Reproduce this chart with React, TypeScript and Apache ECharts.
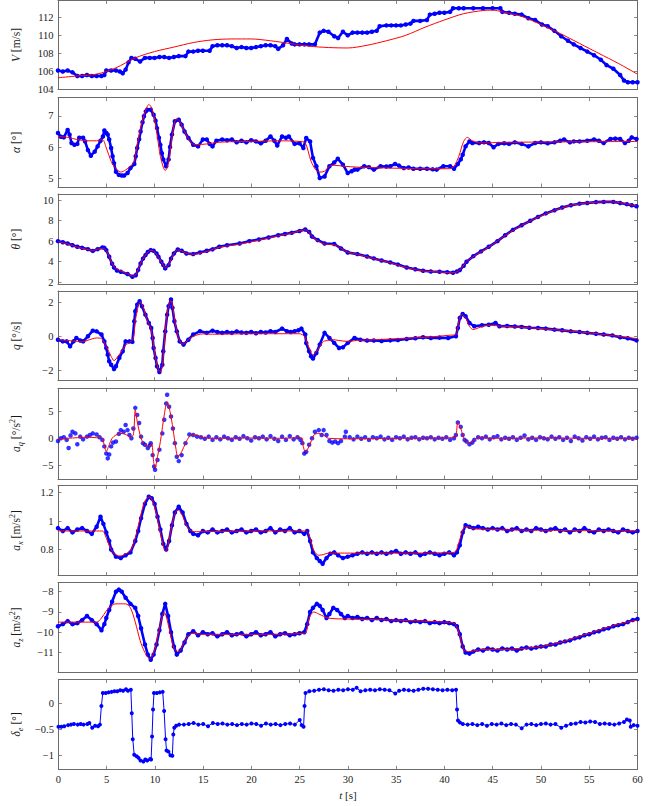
import React, { useEffect, useRef } from 'react';
import * as echarts from 'echarts';

// ---------- data: [t (s), value] ----------
const V_MEAS = [[0,106.1],[0.5,106.0],[1,106.1],[1.5,105.9],[2,105.5],[2.5,105.5],[3,105.6],[3.5,105.5],[4,105.5],[4.5,105.5],[4.8,105.6],[5,106.1],[5.5,106.1],[6,106.1],[6.4,106.0],[6.7,105.8],[7,106.2],[7.3,107.0],[7.6,107.5],[8,107.4],[8.5,107.1],[9,107.5],[9.5,107.5],[10,107.5],[10.5,107.6],[11,107.6],[11.5,107.5],[12,107.6],[12.5,107.7],[13.2,107.7],[13.5,108.2],[14,108.2],[14.5,108.3],[15,108.3],[15.7,108.3],[16,108.8],[16.5,108.9],[17,108.9],[17.5,108.9],[18,108.8],[18.5,108.6],[19,108.7],[19.5,108.6],[20,108.6],[20.5,108.7],[21,108.8],[21.5,108.9],[22,108.9],[22.5,108.8],[22.8,108.5],[23.3,108.9],[23.7,109.6],[24.2,109.1],[24.5,109.0],[25,109.0],[25.5,109.0],[26,109.0],[26.6,109.0],[27.1,110.3],[27.5,110.5],[28,110.4],[28.6,109.9],[29,109.7],[29.5,110.4],[30,110.0],[30.5,110.3],[31,110.3],[31.5,110.3],[32,110.3],[32.5,110.4],[33,110.5],[33.3,111.0],[34,111.1],[34.5,111.1],[35,111.1],[35.5,111.1],[36,111.2],[36.5,111.3],[36.8,111.6],[37.5,111.6],[38.2,111.7],[38.5,112.3],[39,112.4],[39.5,112.5],[40,112.5],[40.6,112.6],[40.9,113.0],[41.5,113.0],[42,113.0],[43,113.0],[44,113.0],[45,113.0],[45.8,113.0],[46,112.6],[46.7,112.5],[47.3,112.4],[48,112.3],[48.7,111.9],[49.4,111.7],[50.1,111.2],[50.7,111.0],[51.4,110.5],[52.1,109.9],[52.8,109.4],[53.4,109.0],[54.1,108.6],[54.8,108.2],[55.5,107.8],[56.2,107.3],[56.8,106.7],[57.5,106.3],[58.2,105.6],[58.6,105.0],[59,104.8],[59.5,104.8],[60,104.8]];
const V_MODEL = [[0,105.3],[2,105.5],[4,105.7],[6,106.4],[8,107.5],[10,108.2],[12,108.7],[14,109.2],[16,109.5],[18,109.6],[20,109.6],[22,109.4],[24,109.1],[26,108.8],[28,108.65],[30,108.6],[32,108.9],[34,109.4],[36,110.0],[38,110.9],[40,111.7],[42,112.4],[44,112.75],[45,112.8],[46,112.6],[48,112.1],[50,111.2],[52,110.2],[54,109.1],[56,108.0],[58,106.9],[60,105.7]];

const ALPHA_MEAS = [[0,6.45],[0.3,6.33],[0.6,6.31],[1.0,6.55],[1.2,6.4],[1.4,6.13],[1.7,6.07],[2.0,6.1],[2.2,6.3],[2.6,6.3],[2.8,6.18],[3.1,5.9],[3.4,5.72],[3.8,5.85],[4.1,6.02],[4.4,6.2],[4.65,6.34],[4.8,6.53],[5.0,6.45],[5.15,6.4],[5.3,6.24],[5.5,5.97],[5.65,5.7],[5.8,5.48],[6.0,5.2],[6.3,5.1],[6.6,5.08],[6.85,5.08],[7.2,5.16],[7.5,5.32],[7.9,5.45],[8.05,5.7],[8.2,5.97],[8.4,6.25],[8.55,6.5],[8.75,6.8],[8.9,6.99],[9.1,7.15],[9.24,7.2],[9.6,7.2],[9.9,7.04],[10.1,6.85],[10.25,6.61],[10.45,6.3],[10.6,6.07],[10.75,5.8],[10.9,5.6],[11.2,5.38],[11.45,5.6],[11.6,6.0],[11.8,6.4],[12.1,6.83],[12.5,6.88],[12.8,6.72],[13.1,6.5],[13.5,6.29],[14.0,6.07],[14.5,6.02],[15.0,6.24],[15.4,6.24],[15.7,6.1],[16.0,6.02],[16.4,6.2],[17,6.24],[17.5,6.22],[18,6.24],[18.5,6.15],[19,6.2],[19.5,6.15],[20,6.22],[20.5,6.18],[21,6.12],[21.5,6.2],[22,6.34],[22.4,6.2],[22.7,6.05],[23.2,6.34],[23.6,6.3],[23.9,6.34],[24.5,6.1],[25,6.12],[25.4,5.97],[25.7,6.29],[26.1,6.18],[26.4,5.65],[26.75,5.38],[27.1,5.0],[27.6,5.05],[28.1,5.38],[28.6,5.5],[28.97,5.62],[29.5,5.43],[30,5.16],[30.4,5.22],[30.7,5.27],[31,5.27],[31.7,5.38],[32.2,5.35],[32.7,5.27],[33.4,5.38],[34,5.37],[34.4,5.38],[34.9,5.45],[35.3,5.4],[35.8,5.32],[36.3,5.34],[36.8,5.3],[37.5,5.3],[38.2,5.3],[38.8,5.28],[39.2,5.27],[39.9,5.38],[40.6,5.38],[41.0,5.3],[41.4,5.45],[41.7,5.6],[41.9,5.75],[42.2,6.02],[42.6,6.18],[42.9,6.13],[43.6,6.13],[44.1,6.15],[44.6,6.13],[45.1,5.99],[45.6,6.1],[46.2,6.12],[46.7,6.1],[47.3,6.15],[48,6.1],[48.7,6.02],[49.4,6.13],[50,6.15],[50.7,6.12],[51.4,6.15],[52,6.2],[52.4,6.24],[53,6.15],[53.4,6.18],[54,6.18],[54.8,6.2],[55.5,6.24],[56,6.2],[56.5,6.13],[57.2,6.26],[57.7,6.27],[58.2,6.26],[58.7,6.13],[59.1,6.2],[59.4,6.31],[59.9,6.26]];
const ALPHA_MODEL = [[0,6.34],[1,6.31],[2,6.24],[3,6.2],[4,6.2],[4.6,6.24],[5.0,5.97],[5.5,5.54],[5.8,5.38],[6.5,5.19],[7.0,5.26],[7.5,5.38],[7.9,5.54],[8.2,6.07],[8.55,6.6],[8.9,7.02],[9.24,7.31],[9.4,7.37],[9.7,7.26],[10.0,6.9],[10.3,6.3],[10.6,5.7],[10.9,5.35],[11.1,5.24],[11.45,5.5],[11.8,6.3],[12.1,6.83],[12.3,6.91],[12.6,6.83],[13.1,6.5],[13.8,6.13],[14.3,6.07],[15.4,6.1],[17,6.16],[20,6.18],[23,6.2],[25,6.18],[25.6,6.13],[26.2,5.54],[26.7,5.26],[27.1,5.19],[27.6,5.22],[28.1,5.38],[28.6,5.41],[29.6,5.38],[31,5.35],[34.4,5.32],[37.8,5.3],[40.5,5.3],[41,5.38],[41.5,5.7],[42.0,6.18],[42.4,6.31],[42.9,6.2],[43.9,6.13],[46,6.15],[50,6.16],[55,6.17],[60,6.18]];

const THETA_MEAS = [[0,6.0],[0.5,5.9],[1,5.77],[1.5,5.6],[2,5.45],[2.5,5.35],[3.1,5.22],[3.6,5.05],[4.1,5.22],[4.6,5.39],[4.8,5.35],[5.0,5.13],[5.3,4.48],[5.6,3.8],[5.8,3.44],[6.1,3.15],[6.5,3.02],[7.2,2.8],[7.7,2.54],[8.05,2.68],[8.3,3.2],[8.55,3.83],[8.8,4.3],[9.06,4.64],[9.3,4.95],[9.6,5.13],[9.9,5.07],[10.2,4.8],[10.4,4.48],[10.7,4.0],[10.9,3.67],[11.1,3.35],[11.45,3.67],[11.7,4.3],[12.0,4.8],[12.4,5.19],[12.8,5.06],[13.3,4.8],[14.0,4.74],[14.7,4.9],[15.4,5.06],[16.0,5.2],[16.7,5.45],[17.5,5.6],[18.8,5.77],[19.8,6.0],[20.8,6.16],[21.8,6.35],[22.8,6.58],[23.5,6.7],[24.2,6.81],[25.0,6.98],[25.6,7.13],[26.0,6.9],[26.3,6.45],[26.9,6.1],[27.6,5.77],[28.6,5.72],[29.3,5.29],[30,4.9],[31,4.74],[32,4.5],[32.7,4.32],[33.5,4.12],[34.4,3.93],[35.2,3.72],[36.1,3.44],[37,3.26],[37.8,3.12],[38.6,3.05],[39.5,3.02],[40.3,2.98],[40.9,2.93],[41.3,3.05],[41.6,3.18],[42.0,3.6],[42.3,3.99],[43.0,4.54],[43.8,5.0],[44.6,5.45],[45.5,6.0],[46.3,6.58],[47.1,7.1],[48.0,7.55],[48.9,7.98],[49.7,8.36],[50.5,8.7],[51.4,9.0],[52.2,9.28],[53.1,9.5],[54.0,9.65],[54.8,9.72],[55.7,9.8],[56.5,9.82],[57.5,9.82],[58.2,9.72],[58.9,9.6],[59.4,9.5],[59.9,9.4]];
const THETA_MODEL = [[0,5.95],[1,5.72],[2,5.42],[3,5.2],[3.6,5.1],[4.1,5.2],[4.6,5.3],[5.0,5.1],[5.3,4.5],[5.8,3.5],[6.5,3.1],[7.2,2.85],[7.7,2.6],[8.05,2.72],[8.55,3.85],[9.06,4.65],[9.6,5.1],[9.9,5.05],[10.4,4.45],[10.9,3.65],[11.1,3.4],[11.45,3.7],[12.0,4.8],[12.4,5.15],[12.8,5.05],[13.3,4.8],[14.0,4.72],[15.4,5.0],[16.7,5.4],[18.8,5.72],[20.8,6.1],[22.8,6.52],[24.2,6.78],[25.6,7.1],[26.0,6.88],[26.3,6.45],[26.9,6.05],[27.6,5.72],[28.6,5.65],[29.3,5.3],[30,4.92],[31,4.72],[32.7,4.3],[34.4,3.9],[36.1,3.42],[37.8,3.1],[39.5,3.0],[40.9,2.92],[41.6,3.2],[42.3,4.0],[43.0,4.5],[44.6,5.42],[46.3,6.55],[48.0,7.52],[49.7,8.33],[51.4,8.98],[53.1,9.48],[54.8,9.72],[56.5,9.82],[57.5,9.82],[58.9,9.62],[59.9,9.42]];

const Q_MEAS = [[0,-0.2],[0.5,-0.3],[0.9,-0.3],[1.25,-0.59],[1.6,-0.3],[1.9,-0.1],[2.3,-0.25],[2.6,-0.3],[3.1,0.0],[3.6,0.33],[4.0,0.29],[4.5,0.1],[4.8,-0.3],[5.0,-0.69],[5.15,-1.08],[5.3,-1.47],[5.5,-1.67],[5.8,-1.92],[6.0,-1.76],[6.35,-1.27],[6.7,-0.88],[7.0,-0.3],[7.4,-0.3],[7.7,-0.33],[7.9,0.88],[8.0,1.47],[8.2,1.86],[8.45,2.06],[8.7,1.76],[9.05,1.27],[9.4,0.78],[9.65,0.49],[9.8,-0.1],[9.9,-0.69],[10.1,-1.27],[10.25,-1.76],[10.5,-2.1],[10.8,-1.67],[10.9,-0.88],[11.1,0.29],[11.3,1.27],[11.45,1.76],[11.7,2.16],[11.85,1.67],[12.05,0.88],[12.3,0.29],[12.6,-0.3],[13.0,-0.49],[13.5,-0.2],[14.0,0.1],[14.7,0.3],[15.4,0.2],[16.0,0.33],[16.5,0.25],[17,0.2],[17.5,0.25],[18,0.2],[18.5,0.28],[19,0.22],[19.5,0.2],[20,0.25],[20.5,0.18],[21,0.25],[21.5,0.22],[22,0.3],[22.5,0.25],[23.2,0.45],[23.7,0.3],[24.1,0.25],[24.5,0.3],[24.9,0.35],[25.2,0.45],[25.6,0.1],[25.7,-0.4],[26.0,-0.88],[26.2,-1.18],[26.4,-1.31],[26.75,-0.98],[27.1,-0.49],[27.6,0.2],[28.1,-0.1],[28.6,-0.39],[29.1,-0.69],[29.5,-0.65],[30,-0.39],[30.7,-0.1],[31.3,-0.2],[32,-0.25],[32.7,-0.25],[33.5,-0.28],[34.4,-0.24],[35.2,-0.22],[36.1,-0.16],[37,-0.12],[37.8,-0.06],[38.6,-0.1],[39.5,-0.08],[40.4,-0.1],[41.2,0.0],[41.4,0.49],[41.6,1.08],[41.9,1.31],[42.2,1.18],[42.6,0.78],[43.1,0.59],[43.9,0.65],[44.6,0.68],[45.3,0.78],[45.7,0.59],[46.5,0.6],[47.3,0.57],[48.0,0.55],[48.8,0.5],[49.7,0.49],[50.5,0.45],[51.4,0.39],[52.2,0.35],[53.1,0.29],[54.0,0.25],[54.8,0.2],[55.7,0.15],[56.5,0.1],[57.4,0.05],[58.2,-0.06],[59.0,-0.12],[59.9,-0.24]];
const Q_MODEL = [[0,-0.2],[1,-0.25],[2,-0.3],[2.5,-0.33],[3,-0.25],[4,-0.1],[4.5,-0.14],[5,-0.59],[5.5,-1.18],[5.8,-1.43],[6.2,-1.18],[6.7,-0.78],[7,-0.49],[7.4,-0.39],[7.8,-0.1],[8.0,0.88],[8.3,1.76],[8.5,2.0],[8.8,1.76],[9.2,0.98],[9.6,0.49],[9.8,-0.1],[10.1,-1.27],[10.4,-1.96],[10.6,-2.1],[10.9,-1.27],[11.1,0.29],[11.4,1.67],[11.7,2.1],[12.0,1.27],[12.3,0.29],[12.7,-0.39],[13.0,-0.45],[13.5,-0.2],[14,0.0],[15,0.14],[16,0.12],[20,0.15],[25,0.15],[25.5,0.0],[26.0,-0.69],[26.4,-1.08],[27,-0.69],[27.5,-0.3],[28,-0.25],[28.5,-0.2],[29,-0.24],[30,-0.3],[31,-0.24],[33,-0.2],[35,-0.14],[38,-0.06],[40.5,0.06],[41.2,0.1],[41.5,0.88],[41.8,1.27],[42.2,1.08],[42.6,0.59],[43,0.39],[43.5,0.49],[44.5,0.65],[46,0.59],[50,0.45],[55,0.2],[58,0.0],[60,-0.14]];

const AQ_MEAS = [[0,-0.5],[0.3,0.0],[0.6,0.2],[0.9,-0.3],[1.1,-1.8],[1.3,0.5],[1.5,1.2],[1.8,0.9],[2.0,-1.1],[2.3,0.3],[2.6,-0.2],[3.0,0.3],[3.3,0.6],[3.6,0.9],[4.0,0.7],[4.3,0.2],[4.6,-0.3],[4.8,-1.5],[5.0,-2.8],[5.15,-3.7],[5.3,-3.0],[5.5,-1.5],[5.7,-0.8],[6.0,-0.6],[6.3,0.8],[6.5,1.5],[6.8,1.2],[7.0,2.45],[7.2,1.5],[7.4,0.6],[7.6,0.0],[7.8,1.8],[8.0,5.6],[8.2,4.3],[8.4,2.8],[8.6,0.3],[8.8,-0.9],[9.0,-1.2],[9.3,-1.8],[9.5,-1.3],[9.6,-0.9],[9.8,-3.1],[9.95,-5.2],[10.05,-5.8],[10.3,-4.0],[10.5,-2.1],[10.8,0.9],[11.0,3.4],[11.2,6.4],[11.3,8.0],[11.5,5.8],[11.7,4.0],[11.9,1.8],[12.1,-0.9],[12.3,-3.4],[12.5,-4.2],[12.8,-3.1],[13.2,-0.9],[13.6,0.7],[14.0,0.6],[14.4,0.3],[14.8,0.2],[15.2,-0.1],[15.6,0.3],[16.0,-0.3],[16.4,0.2],[16.8,-0.2],[17.2,0.3],[17.6,0.0],[18.0,-0.3],[18.4,0.2],[18.8,-0.1],[19.2,0.4],[19.6,0.0],[20.0,-0.4],[20.4,0.2],[20.8,0.0],[21.2,0.3],[21.6,-0.2],[22.0,0.4],[22.4,-0.1],[22.8,-0.5],[23.2,0.3],[23.6,-0.3],[24.0,0.4],[24.4,-0.2],[24.8,0.2],[25.1,-0.3],[25.3,-0.9],[25.5,-2.8],[25.7,-2.5],[26.0,-1.2],[26.3,0.0],[26.6,1.2],[27.0,1.5],[27.3,0.6],[27.5,1.5],[27.8,0.6],[28.1,-0.5],[28.4,-0.8],[28.7,-0.6],[29.0,-0.9],[29.3,-0.5],[29.7,0.3],[29.8,1.2],[30.2,0.2],[30.6,-0.2],[31.0,0.3],[31.4,-0.1],[31.8,0.2],[32.2,-0.3],[32.6,0.2],[33.0,0.0],[33.4,0.3],[33.8,-0.2],[34.2,0.1],[34.6,-0.3],[35.0,0.2],[35.4,0.0],[35.8,0.3],[36.2,-0.2],[36.6,0.1],[37.0,0.2],[37.4,-0.2],[37.8,0.1],[38.2,0.0],[38.6,0.2],[39.0,-0.2],[39.4,0.1],[39.8,-0.1],[40.2,0.2],[40.6,-0.3],[41.0,0.0],[41.2,0.6],[41.4,2.9],[41.7,2.1],[41.9,0.6],[42.1,-0.3],[42.3,-0.6],[42.6,-1.1],[42.9,-0.8],[43.1,-0.3],[43.5,0.2],[43.9,0.0],[44.3,0.3],[44.7,-0.2],[45.1,0.2],[45.5,0.4],[45.9,-0.2],[46.3,0.1],[46.7,-0.1],[47.1,0.2],[47.5,-0.3],[47.9,0.1],[48.3,0.5],[48.7,-0.2],[49.1,0.1],[49.5,-0.3],[49.9,0.2],[50.3,0.0],[50.7,-0.2],[51.1,0.3],[51.5,-0.1],[51.9,0.2],[52.3,-0.3],[52.7,0.1],[53.1,-0.5],[53.5,0.3],[53.9,0.0],[54.3,-0.4],[54.7,0.2],[55.1,-0.1],[55.5,0.3],[55.9,-0.2],[56.3,0.1],[56.7,0.2],[57.1,-0.3],[57.5,0.1],[57.9,-0.1],[58.3,0.2],[58.7,-0.2],[59.1,0.1],[59.5,-0.1],[59.9,0.1]];
const AQ_MODEL = [[0,-0.1],[1,0.0],[2,0.1],[3,0.2],[4,0.1],[4.5,0.1],[5.0,-2.4],[5.3,-1.2],[5.6,0.0],[6.0,0.6],[6.5,0.9],[7.0,0.7],[7.5,0.3],[7.8,0.6],[8.0,5.2],[8.2,3.1],[8.6,0.0],[9.0,-1.2],[9.5,-1.5],[9.7,-0.9],[9.9,-4.3],[10.05,-5.5],[10.3,-3.4],[10.6,-0.6],[10.9,3.1],[11.2,6.4],[11.3,6.7],[11.6,4.9],[11.9,1.8],[12.2,-1.8],[12.4,-3.4],[12.8,-2.5],[13.2,-0.9],[13.6,0.3],[14.0,0.7],[14.5,0.5],[15,0.1],[17,0.0],[20,0.05],[23,0.0],[25.2,0.1],[25.4,-1.5],[25.6,-2.5],[26.0,-1.5],[26.5,0.6],[27.0,0.9],[27.5,0.6],[28,0.0],[30,-0.1],[35,0.0],[41.0,0.1],[41.2,0.3],[41.4,2.9],[41.7,1.8],[42.1,-0.3],[42.6,-0.9],[43.1,-0.3],[43.5,0.1],[45,0.0],[50,0.05],[55,0.0],[60,0.0]];

const AX_MEAS = [[0,0.95],[0.5,0.93],[1,0.95],[1.5,0.92],[2,0.94],[2.5,0.95],[3,0.93],[3.5,0.91],[4,0.96],[4.4,1.03],[4.7,0.98],[5,0.92],[5.3,0.86],[5.5,0.8],[6,0.75],[6.5,0.74],[7,0.76],[7.5,0.78],[8,0.86],[8.3,0.93],[8.6,1.02],[9,1.12],[9.4,1.17],[9.7,1.16],[10,1.12],[10.3,1.03],[10.6,0.94],[10.9,0.84],[11.2,0.8],[11.5,0.86],[11.8,0.97],[12.1,1.06],[12.5,1.1],[12.9,1.06],[13.3,0.98],[13.7,0.93],[14,0.91],[14.5,0.9],[15,0.93],[15.5,0.92],[16,0.94],[16.5,0.92],[17,0.93],[17.5,0.94],[18,0.92],[18.5,0.93],[19,0.94],[19.5,0.92],[20,0.93],[20.5,0.94],[21,0.92],[21.5,0.93],[22,0.95],[22.5,0.92],[23,0.94],[23.5,0.93],[24,0.95],[24.5,0.92],[25,0.93],[25.5,0.91],[25.8,0.93],[26.1,0.86],[26.4,0.78],[26.8,0.74],[27.1,0.72],[27.4,0.7],[27.8,0.74],[28.2,0.77],[28.6,0.78],[29,0.76],[29.5,0.74],[30,0.75],[30.5,0.76],[31,0.77],[31.5,0.78],[32,0.77],[32.5,0.78],[33,0.77],[33.5,0.78],[34,0.77],[34.5,0.78],[35,0.79],[35.5,0.77],[36,0.78],[36.5,0.77],[37,0.78],[37.5,0.76],[38,0.77],[38.5,0.78],[39,0.77],[39.5,0.76],[40,0.77],[40.5,0.78],[41,0.76],[41.3,0.78],[41.6,0.83],[41.9,0.92],[42.2,0.97],[42.6,0.96],[43,0.95],[43.5,0.96],[44,0.95],[44.5,0.94],[45,0.95],[45.5,0.94],[46,0.95],[46.5,0.93],[47,0.94],[47.5,0.95],[48,0.93],[48.5,0.94],[49,0.93],[49.5,0.95],[50,0.94],[50.5,0.93],[51,0.94],[51.5,0.95],[52,0.93],[52.5,0.94],[53,0.92],[53.5,0.94],[54,0.93],[54.5,0.95],[55,0.93],[55.5,0.92],[56,0.94],[56.5,0.93],[57,0.94],[57.5,0.93],[58,0.92],[58.5,0.94],[59,0.93],[59.5,0.92],[60,0.93]];
const AX_MODEL = [[0,0.93],[4,0.93],[4.6,0.93],[5,0.88],[5.5,0.8],[6,0.76],[6.5,0.755],[7,0.77],[7.5,0.79],[8,0.88],[8.5,1.02],[9,1.14],[9.5,1.17],[10,1.1],[10.5,0.95],[11,0.8],[11.2,0.79],[11.5,0.87],[12,1.03],[12.4,1.08],[12.8,1.05],[13.3,0.97],[13.8,0.93],[14.5,0.925],[20,0.93],[25.7,0.93],[26.1,0.88],[26.5,0.79],[27,0.76],[27.5,0.765],[28,0.775],[35,0.775],[41,0.78],[41.5,0.85],[42,0.95],[42.5,0.96],[43,0.945],[50,0.935],[60,0.93]];

const AZ_MEAS = [[0,-9.7],[0.5,-9.6],[1,-9.45],[1.5,-9.6],[2,-9.55],[2.5,-9.4],[3,-9.2],[3.5,-9.4],[4,-9.6],[4.5,-9.9],[4.8,-9.6],[5,-9.3],[5.3,-8.9],[5.6,-8.5],[6,-8.0],[6.3,-7.9],[6.6,-8.0],[7,-8.3],[7.5,-8.6],[8,-8.8],[8.3,-9.2],[8.6,-9.8],[9,-10.6],[9.3,-11.1],[9.6,-11.35],[9.9,-11.1],[10.2,-10.6],[10.5,-9.9],[10.8,-9.1],[11.1,-8.6],[11.4,-9.2],[11.7,-10.0],[12,-10.7],[12.3,-11.1],[12.7,-10.9],[13.1,-10.5],[13.5,-10.1],[14,-9.95],[14.5,-10.15],[15,-10.0],[15.5,-10.1],[16,-10.05],[16.5,-10.2],[17,-10.1],[17.5,-10.0],[18,-10.15],[18.5,-10.1],[19,-10.05],[19.5,-10.2],[20,-10.1],[20.5,-10.0],[21,-10.15],[21.5,-10.1],[22,-10.0],[22.5,-10.2],[23,-10.1],[23.5,-10.05],[24,-10.15],[24.5,-10.1],[25,-10.05],[25.5,-10.0],[25.8,-9.6],[26.1,-9.0],[26.4,-8.8],[26.8,-8.6],[27.1,-8.7],[27.4,-8.9],[27.8,-9.3],[28.1,-9.1],[28.5,-8.8],[28.9,-8.9],[29.3,-9.1],[29.7,-9.3],[30,-9.2],[30.5,-9.3],[31,-9.25],[31.5,-9.35],[32,-9.3],[32.5,-9.4],[33,-9.3],[33.5,-9.4],[34,-9.35],[34.5,-9.45],[35,-9.4],[35.5,-9.45],[36,-9.4],[36.5,-9.5],[37,-9.45],[37.5,-9.5],[38,-9.45],[38.5,-9.55],[39,-9.5],[39.5,-9.55],[40,-9.5],[40.5,-9.55],[41,-9.6],[41.3,-9.7],[41.6,-10.1],[41.9,-10.7],[42.2,-11.0],[42.6,-11.05],[43,-10.95],[43.5,-10.85],[44,-10.9],[44.5,-10.8],[45,-10.85],[45.5,-10.9],[46,-10.8],[46.5,-10.85],[47,-10.8],[47.5,-10.9],[48,-10.8],[48.5,-10.75],[49,-10.8],[49.5,-10.75],[50,-10.7],[50.5,-10.7],[51,-10.6],[51.5,-10.6],[52,-10.5],[52.5,-10.45],[53,-10.4],[53.5,-10.3],[54,-10.25],[54.5,-10.15],[55,-10.1],[55.5,-10.0],[56,-9.95],[56.5,-9.85],[57,-9.8],[57.5,-9.7],[58,-9.65],[58.5,-9.6],[59,-9.5],[59.5,-9.4],[60,-9.35]];
const AZ_MODEL = [[0,-9.5],[4,-9.5],[4.5,-9.3],[5,-8.95],[5.5,-8.7],[6,-8.6],[7,-8.6],[7.5,-8.8],[8,-9.5],[8.5,-10.4],[9,-11.0],[9.5,-11.3],[10,-10.9],[10.5,-9.8],[11,-9.0],[11.5,-9.8],[12,-10.8],[12.5,-10.95],[13,-10.55],[13.5,-10.15],[14,-10.05],[15,-10.1],[20,-10.1],[25.5,-10.05],[26,-9.3],[26.5,-9.0],[27,-9.1],[28,-9.3],[30,-9.35],[35,-9.4],[40,-9.5],[41,-9.55],[41.5,-10.0],[42,-10.85],[42.5,-10.95],[44,-10.85],[46,-10.85],[48,-10.8],[50,-10.7],[52,-10.5],[54,-10.2],[56,-9.9],[58,-9.6],[60,-9.4]];

const DE_MEAS = [[0,-0.45],[0.3,-0.45],[0.6,-0.44],[1,-0.42],[1.3,-0.41],[1.6,-0.4],[2,-0.41],[2.3,-0.4],[2.6,-0.41],[3,-0.4],[3.2,-0.38],[3.5,-0.47],[3.8,-0.43],[4.1,-0.44],[4.3,-0.41],[4.45,-0.05],[4.6,0.2],[4.9,0.2],[5.2,0.21],[5.5,0.22],[5.8,0.23],[6.1,0.23],[6.4,0.25],[6.7,0.24],[7.0,0.27],[7.2,0.24],[7.5,0.26],[7.6,-0.19],[7.7,-0.69],[7.85,-0.99],[8.1,-1.02],[8.3,-1.05],[8.5,-1.1],[8.8,-1.12],[9.0,-1.08],[9.2,-1.1],[9.5,-1.07],[9.6,-1.08],[9.7,-0.64],[9.8,-0.12],[9.9,0.2],[10.2,0.2],[10.5,0.21],[10.8,0.22],[10.95,-0.15],[11.1,-0.69],[11.2,-0.91],[11.4,-0.93],[11.6,-1.0],[11.8,-1.01],[11.9,-0.6],[12.0,-0.47],[12.2,-0.43],[12.5,-0.41],[13,-0.41],[13.5,-0.4],[14,-0.38],[14.5,-0.41],[15,-0.4],[15.5,-0.44],[16,-0.38],[16.5,-0.4],[17,-0.39],[17.5,-0.41],[18,-0.4],[18.5,-0.42],[19,-0.4],[19.5,-0.41],[20,-0.39],[20.5,-0.4],[21,-0.43],[21.5,-0.39],[22,-0.41],[22.5,-0.4],[23,-0.42],[23.5,-0.4],[24,-0.39],[24.5,-0.41],[25,-0.32],[25.2,-0.42],[25.4,-0.45],[25.5,-0.05],[25.6,0.2],[26,0.23],[26.5,0.24],[27,0.26],[27.5,0.27],[28,0.25],[28.5,0.24],[29,0.26],[29.5,0.25],[30,0.27],[30.5,0.26],[30.9,0.3],[31.3,0.23],[31.8,0.25],[32.3,0.26],[32.8,0.25],[33.3,0.27],[33.8,0.26],[34.3,0.25],[34.9,0.19],[35.3,0.24],[35.8,0.26],[36.3,0.25],[36.8,0.24],[37.3,0.26],[37.8,0.28],[38.3,0.28],[38.8,0.27],[39.3,0.26],[39.8,0.25],[40.3,0.26],[40.8,0.25],[41.2,0.26],[41.3,-0.12],[41.4,-0.33],[41.6,-0.37],[41.9,-0.4],[42.4,-0.41],[42.9,-0.4],[43.4,-0.42],[43.9,-0.4],[44.4,-0.43],[44.9,-0.4],[45.4,-0.41],[45.9,-0.39],[46.4,-0.42],[46.9,-0.4],[47.4,-0.41],[48,-0.48],[48.5,-0.41],[49,-0.4],[49.5,-0.42],[50,-0.4],[50.5,-0.39],[51,-0.41],[51.5,-0.4],[52.1,-0.47],[52.6,-0.43],[53.1,-0.4],[53.6,-0.39],[54.1,-0.36],[54.6,-0.37],[55.1,-0.35],[55.6,-0.36],[56.1,-0.4],[56.6,-0.39],[57.1,-0.4],[57.6,-0.41],[58.1,-0.39],[58.6,-0.36],[58.9,-0.31],[59.2,-0.33],[59.3,-0.45],[59.6,-0.42],[60,-0.43]];

// ---------- axis descriptions ----------
const Y_NAMES = [
  '{i|V} [m/s]',
  '{i|α} [°]',
  '{i|θ} [°]',
  '{i|q} [°/s]',
  '{i|a}{sub|q} [°/s{sup|2}]',
  '{i|a}{sub|x} [m/s{sup|2}]',
  '{i|a}{sub|z} [m/s{sup|2}]',
  '{i|δ}{sub|e} [°]',
];
const Y_TICKS = [
  [104, 106, 108, 110, 112],
  [5, 6, 7],
  [2, 4, 6, 8, 10],
  [-2, 0, 2],
  [-5, 0, 5],
  [0.8, 1, 1.2],
  [-11, -10, -9, -8],
  [-1, -0.5, 0],
];
const Y_MIN = [104, 4.71, 1.8, -2.61, -7.5, 0.618, -11.98, -1.27];
const Y_MAX = [113.86, 7.59, 10.59, 2.66, 9.2, 1.249, -7.55, 0.458];
const MEAS = [V_MEAS, ALPHA_MEAS, THETA_MEAS, Q_MEAS, AQ_MEAS, AX_MEAS, AZ_MEAS, DE_MEAS];
const MODEL = [V_MODEL, ALPHA_MODEL, THETA_MODEL, Q_MODEL, AQ_MODEL, AX_MODEL, AZ_MODEL, null];

// ---------- layout ----------
const GRID_TOP = [0.5, 97.7, 194, 291, 388.3, 485.5, 582.5, 679.5];
const GRID_H = [89, 89.3, 90.3, 89.7, 90.7, 90, 90, 89.8];
const FONT = 'Liberation Serif';
const AXC = '#6b6b6b';
const TXT = '#1a1a1a';

const fmt = (v: number) => (v < 0 ? '\u2212' : '') + String(Math.abs(v));

const rich = {
  i: { fontStyle: 'italic', fontFamily: FONT, fontSize: 11.5, color: TXT, lineHeight: 16 },
  sub: { fontStyle: 'italic', fontFamily: FONT, fontSize: 8.5, color: TXT, lineHeight: 7, verticalAlign: 'bottom' },
  sup: { fontFamily: FONT, fontSize: 8, color: TXT, lineHeight: 8, verticalAlign: 'top' },
};

function buildOption() {
  const grid: any[] = [];
  const xAxis: any[] = [];
  const yAxis: any[] = [];
  const series: any[] = [];
  const line = { show: true, onZero: false, lineStyle: { color: AXC, width: 1 } };
  const tick = { show: true, inside: true, length: 3.5, lineStyle: { color: AXC, width: 0.8 } };
  for (let i = 0; i < 8; i++) {
    const last = i === 7;
    grid.push({ left: 49.5, width: 588, top: GRID_TOP[i], height: GRID_H[i] });
    const xBase = {
      gridIndex: i, type: 'value', min: 0, max: 60, interval: 5,
      axisLine: line, axisTick: tick, splitLine: { show: false },
    };
    xAxis.push({
      ...xBase, position: 'bottom',
      axisLabel: { show: last, margin: 5, fontFamily: FONT, fontSize: 10.5, color: TXT, formatter: fmt },
      ...(last ? {
        name: '{i|t} [s]', nameLocation: 'middle', nameGap: 20,
        nameTextStyle: { fontFamily: FONT, fontSize: 11, color: TXT, rich: { i: { fontStyle: 'italic', fontFamily: FONT, fontSize: 11, color: TXT } } },
      } : {}),
    });
    xAxis.push({ ...xBase, position: 'top', axisLabel: { show: false } });
    const yBase = {
      gridIndex: i, type: 'value', min: Y_MIN[i], max: Y_MAX[i],
      axisLine: line, splitLine: { show: false },
      axisTick: { ...tick, customValues: Y_TICKS[i] },
    };
    yAxis.push({
      ...yBase, position: 'left',
      axisLabel: { customValues: Y_TICKS[i], formatter: fmt, margin: 4.5, fontFamily: FONT, fontSize: 10.5, color: TXT },
      name: Y_NAMES[i], nameLocation: 'middle', nameRotate: 90, nameGap: 34,
      nameTextStyle: { fontFamily: FONT, fontSize: 11.5, color: TXT, lineHeight: 16, rich },
    });
    yAxis.push({ ...yBase, position: 'right', axisLabel: { show: false } });

    const blue = '#0000ff';
    if (i === 4) {
      series.push({
        type: 'scatter', xAxisIndex: 2 * i, yAxisIndex: 2 * i, data: MEAS[i],
        symbol: 'circle', symbolSize: 4.5, itemStyle: { color: blue }, silent: true, z: 2,
      });
    } else {
      const de = i === 7;
      series.push({
        type: 'line', xAxisIndex: 2 * i, yAxisIndex: 2 * i, data: MEAS[i],
        symbol: 'circle', symbolSize: de ? 4 : 4.5, showSymbol: true, showAllSymbol: true,
        itemStyle: { color: blue }, lineStyle: { color: blue, width: de ? 1 : 2.6 },
        silent: true, z: 2,
      });
    }
    const m = MODEL[i];
    if (m) {
      series.push({
        type: 'line', xAxisIndex: 2 * i, yAxisIndex: 2 * i, data: m,
        symbol: 'none', showSymbol: false, smooth: 0.3,
        lineStyle: { color: '#ff0000', width: 1 }, silent: true, z: 3,
      });
    }
  }
  return { animation: false, backgroundColor: '#ffffff', grid, xAxis, yAxis, series };
}

export default function App() {
  const ref = useRef<HTMLDivElement>(null);
  useEffect(() => {
    const chart = echarts.init(ref.current!, null, { renderer: 'svg' });
    chart.setOption(buildOption() as any);
    return () => chart.dispose();
  }, []);
  return <div ref={ref} style={{ position: 'absolute', left: 0, top: 0, width: 648, height: 806 }} />;
}
